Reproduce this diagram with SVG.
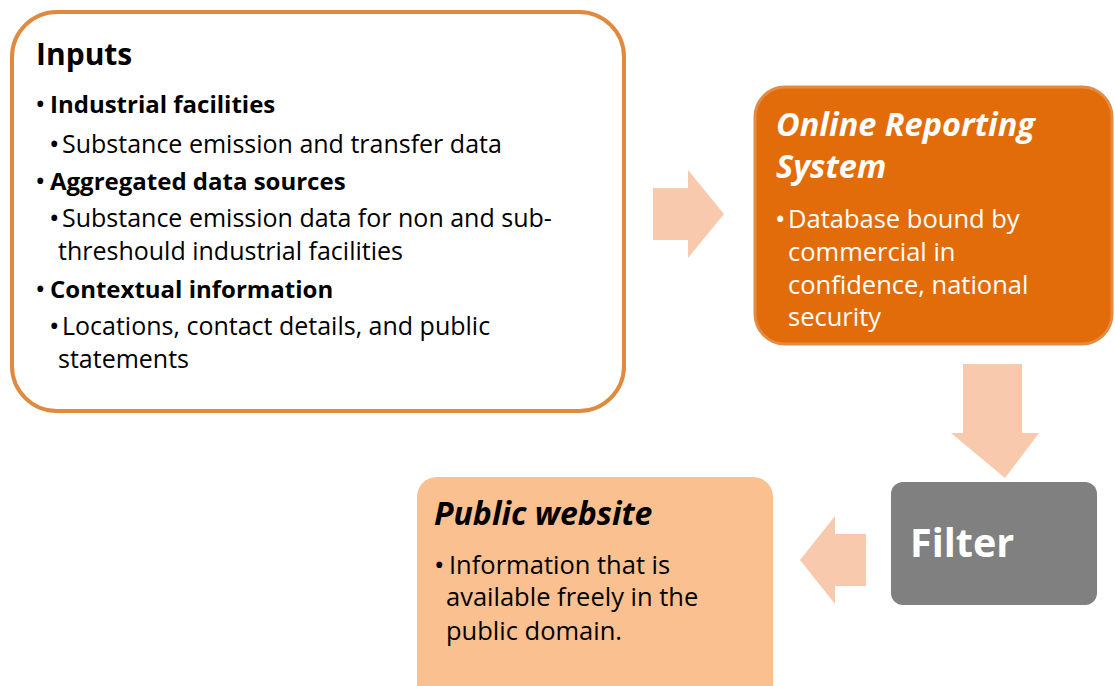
<svg xmlns="http://www.w3.org/2000/svg" width="1115" height="686" viewBox="0 0 1115 686">
<style>
text{font-family:"Open Sans","Liberation Sans",sans-serif;}
.b{font-weight:bold;}
.t{font-size:25px;fill:#000;}
.hb{font-size:24px;font-weight:bold;fill:#000;}
.w{font-size:25.5px;fill:#fff;}
.p{font-size:25.5px;fill:#000;}
.bu{font-size:28px;font-weight:normal;}
.arr{fill:#F9C9AE;}
</style>
<rect width="1115" height="686" fill="#fff"/>
<g id="connectors">
<path class="arr" d="M653,188 H688 V170 L724,214 L688,258 V240 H653 Z"/>
<path class="arr" d="M963,364 H1022 V433 H1039 L1005,478 L951,433 H963 Z"/>
<path class="arr" d="M866,534 H835 V516 L800,560 L835,604 V586 H866 Z"/>
</g>
<g id="inputs">
<rect x="12" y="12" width="612" height="399" rx="45" fill="#fff" stroke="#E08A3F" stroke-width="4"/>
<text x="36" y="65" class="b" font-size="30">Inputs</text>
<text y="113" class="hb"><tspan x="35" dy="1" class="bu">•</tspan><tspan x="50" dy="-1">Industrial facilities</tspan></text>
<text y="153" class="t"><tspan x="49" dy="1" class="bu">•</tspan><tspan x="62" dy="-1">Substance emission and transfer data</tspan></text>
<text y="190" class="hb"><tspan x="35" dy="1" class="bu">•</tspan><tspan x="50" dy="-1">Aggregated data sources</tspan></text>
<text y="227" class="t"><tspan x="49" dy="1" class="bu">•</tspan><tspan x="62" dy="-1">Substance emission data for non and sub-</tspan></text>
<text x="58" y="260" class="t">threshould industrial facilities</text>
<text y="298" class="hb"><tspan x="35" dy="1" class="bu">•</tspan><tspan x="50" dy="-1">Contextual information</tspan></text>
<text y="335" class="t"><tspan x="49" dy="1" class="bu">•</tspan><tspan x="62" dy="-1">Locations, contact details, and public</tspan></text>
<text x="58" y="368" class="t">statements</text>
</g>
<g id="online-reporting">
<rect x="755" y="87" width="357" height="257" rx="30" fill="#E36C0A" stroke="#E38A45" stroke-width="3"/>
<text x="776" y="136" class="b" font-size="32.5" font-style="italic" fill="#fff">Online Reporting</text>
<text x="776" y="178" class="b" font-size="32.5" font-style="italic" fill="#fff">System</text>
<text y="228" class="w"><tspan x="775" dy="1" class="bu">•</tspan><tspan x="788" dy="-1">Database bound by</tspan></text>
<text x="788" y="261" class="w">commercial in</text>
<text x="788" y="294" class="w">confidence, national</text>
<text x="788" y="326" class="w">security</text>
</g>
<g id="filter">
<rect x="891" y="482" width="206" height="123" rx="12" fill="#808080"/>
<text x="910" y="557" class="b" font-size="39.5" fill="#fff">Filter</text>
</g>
<g id="public-website">
<rect x="417" y="477" width="356" height="230" rx="20" fill="#FAC090"/>
<text x="434" y="525" class="b" font-size="32" font-style="italic" fill="#000">Public website</text>
<text y="574" class="p"><tspan x="434" dy="1" class="bu">•</tspan><tspan x="449" dy="-1">Information that is</tspan></text>
<text x="446" y="606" class="p">available freely in the</text>
<text x="446" y="640" class="p">public domain.</text>
</g>
</svg>
